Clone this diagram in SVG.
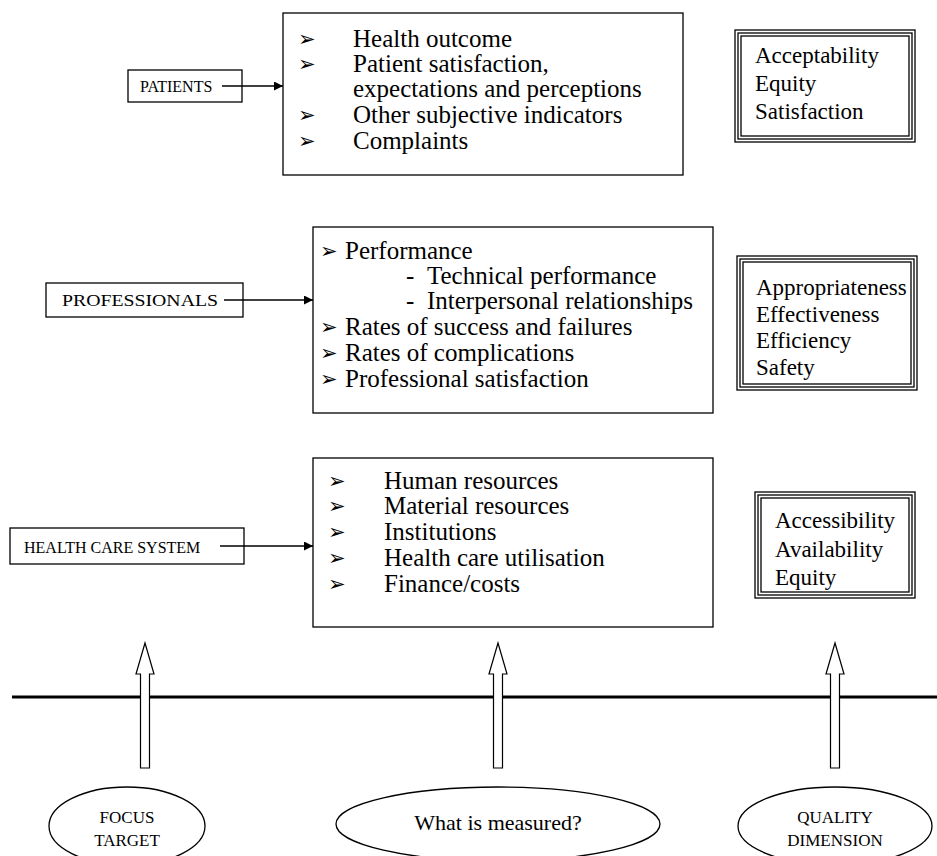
<svg xmlns="http://www.w3.org/2000/svg" width="937" height="856" viewBox="0 0 937 856">
<defs>
<style>
.box{fill:#fff;stroke:#000;stroke-width:1.3}
.t{font-family:"Liberation Serif","Times New Roman",serif;font-size:25px;fill:#000}
.r{font-family:"Liberation Serif","Times New Roman",serif;font-size:23px;fill:#000}
.s{font-family:"Liberation Serif","Times New Roman",serif;font-size:16px;fill:#000}
.e{font-family:"Liberation Serif","Times New Roman",serif;font-size:17px;fill:#000}
.b{font-family:"DejaVu Sans",sans-serif;font-size:21px;fill:#000}
.c{stroke:#000;stroke-width:1.3;fill:none}
.ha{fill:#fff;stroke:#000;stroke-width:1.2}
.el{fill:#fff;stroke:#000;stroke-width:1.3}
</style>
<marker id="ah" viewBox="0 0 10 10" refX="10" refY="5" markerWidth="11" markerHeight="9" markerUnits="userSpaceOnUse" orient="auto">
<path d="M0,0 L10,5 L0,10 z" fill="#000"/>
</marker>
</defs>
<rect width="937" height="856" fill="#fff"/>

<g id="patients">
<rect class="box" x="128" y="70" width="114" height="32"/>
<text class="s" x="140" y="92">PATIENTS</text>
</g>
<g id="patients-measures">
<rect class="box" x="283" y="13" width="400" height="162"/>
<text class="b" x="298" y="46">➢</text><text class="t" x="353" y="47">Health outcome</text>
<text class="b" x="298" y="71">➢</text><text class="t" x="353" y="72">Patient satisfaction,</text>
<text class="t" x="353" y="97">expectations and perceptions</text>
<text class="b" x="298" y="122">➢</text><text class="t" x="353" y="123">Other subjective indicators</text>
<text class="b" x="298" y="148">➢</text><text class="t" x="353" y="149">Complaints</text>
</g>
<g id="dim-patients">
<rect class="box" x="735" y="30" width="180" height="112"/>
<rect class="box" x="738" y="33" width="174" height="106"/>
<rect class="box" x="741" y="36" width="168" height="100" stroke-width="1"/>
<text class="r" x="755" y="63">Acceptability</text>
<text class="r" x="755" y="91">Equity</text>
<text class="r" x="755" y="119">Satisfaction</text>
</g>

<g id="professionals">
<rect class="box" x="46" y="283" width="197" height="34"/>
<text class="s" x="62" y="306" textLength="156" lengthAdjust="spacingAndGlyphs" style="font-size:17px">PROFESSIONALS</text>
</g>
<g id="professionals-measures">
<rect class="box" x="313" y="227" width="400" height="186"/>
<text class="b" x="320" y="258">➢</text><text class="t" x="345" y="259">Performance</text>
<text class="t" x="406" y="284">-</text><text class="t" x="427" y="284">Technical performance</text>
<text class="t" x="406" y="309">-</text><text class="t" x="427" y="309">Interpersonal relationships</text>
<text class="b" x="320" y="334">➢</text><text class="t" x="345" y="335">Rates of success and failures</text>
<text class="b" x="320" y="360">➢</text><text class="t" x="345" y="361">Rates of complications</text>
<text class="b" x="320" y="386">➢</text><text class="t" x="345" y="387">Professional satisfaction</text>
</g>
<g id="dim-professionals">
<rect class="box" x="737" y="256" width="180" height="134"/>
<rect class="box" x="740" y="259" width="174" height="128"/>
<rect class="box" x="743" y="262" width="168" height="122" stroke-width="1"/>
<text class="r" x="756" y="295">Appropriateness</text>
<text class="r" x="756" y="322">Effectiveness</text>
<text class="r" x="756" y="348">Efficiency</text>
<text class="r" x="756" y="375">Safety</text>
</g>

<g id="health-care-system">
<rect class="box" x="10" y="528" width="234" height="36"/>
<text class="s" x="24" y="553">HEALTH CARE SYSTEM</text>
</g>
<g id="system-measures">
<rect class="box" x="313" y="458" width="400" height="169"/>
<text class="b" x="328" y="488">➢</text><text class="t" x="384" y="489">Human resources</text>
<text class="b" x="328" y="513">➢</text><text class="t" x="384" y="514">Material resources</text>
<text class="b" x="328" y="539">➢</text><text class="t" x="384" y="540">Institutions</text>
<text class="b" x="328" y="565">➢</text><text class="t" x="384" y="566">Health care utilisation</text>
<text class="b" x="328" y="591">➢</text><text class="t" x="384" y="592">Finance/costs</text>
</g>
<g id="dim-system">
<rect class="box" x="755" y="492" width="160" height="106"/>
<rect class="box" x="758" y="495" width="154" height="100"/>
<rect class="box" x="761" y="498" width="148" height="94" stroke-width="1"/>
<text class="r" x="775" y="528">Accessibility</text>
<text class="r" x="775" y="557">Availability</text>
<text class="r" x="775" y="585">Equity</text>
</g>

<g id="connectors">
<line class="c" x1="222" y1="86" x2="283" y2="86" marker-end="url(#ah)"/>
<line class="c" x1="224" y1="300" x2="313" y2="300" marker-end="url(#ah)"/>
<line class="c" x1="220" y1="546" x2="313" y2="546" marker-end="url(#ah)"/>
<line x1="12" y1="697" x2="937" y2="697" stroke="#000" stroke-width="3"/>
<polygon class="ha" points="145,643 154,674 149.5,674 149.5,768 140.5,768 140.5,674 136,674"/>
<polygon class="ha" points="498,643 507,674 502.5,674 502.5,768 493.5,768 493.5,674 489,674"/>
<polygon class="ha" points="835,643 844,674 839.5,674 839.5,768 830.5,768 830.5,674 826,674"/>
</g>

<g id="focus-target">
<ellipse class="el" cx="127" cy="826" rx="78" ry="39"/>
<text class="e" x="127" y="823" text-anchor="middle">FOCUS</text>
<text class="e" x="127" y="846" text-anchor="middle">TARGET</text>
</g>
<g id="what-measured">
<ellipse class="el" cx="498" cy="824" rx="162" ry="37"/>
<text class="t" x="498" y="830" text-anchor="middle" style="font-size:22px">What is measured?</text>
</g>
<g id="quality-dimension">
<ellipse class="el" cx="835" cy="826" rx="97" ry="39"/>
<text class="e" x="835" y="823" text-anchor="middle">QUALITY</text>
<text class="e" x="835" y="846" text-anchor="middle">DIMENSION</text>
</g>
</svg>
